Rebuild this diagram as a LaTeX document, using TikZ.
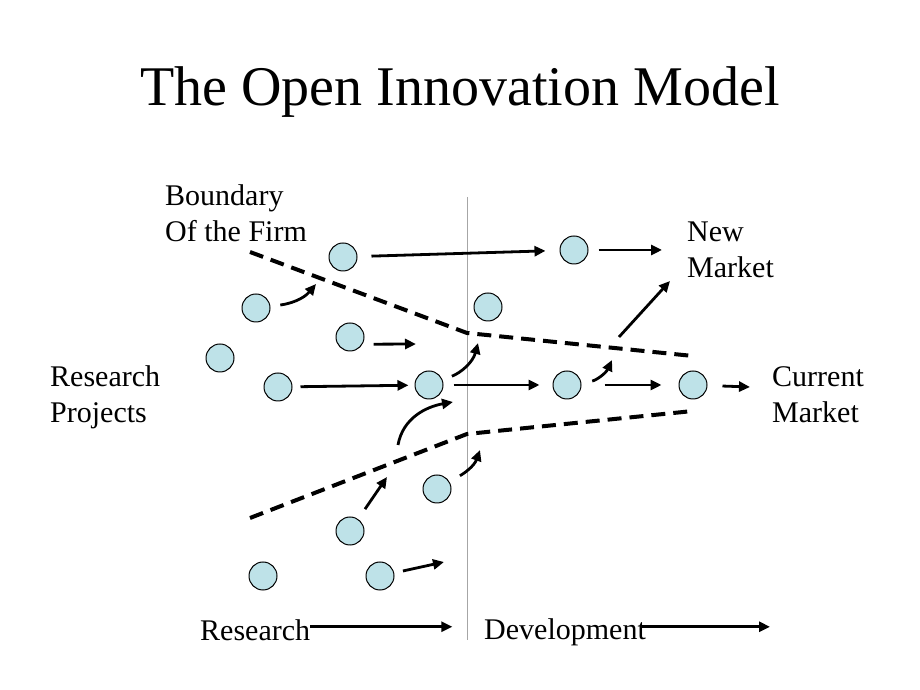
\documentclass[tikz,border=0pt]{standalone}
\usepackage{fontspec}
\setmainfont{Liberation Serif}
\usepackage{tikz}
\usetikzlibrary{arrows, arrows.meta}
\definecolor{projfill}{RGB}{190,226,232}

\begin{document}
\begin{tikzpicture}[x=1pt, y=1pt]
\tikzstyle{project}=[circle, draw, fill=projfill, line width=1pt, minimum size=28pt, inner sep=0pt]
\tikzstyle{label}=[inner sep=0pt, align=left, anchor=base west, font=\fontsize{30}{36}\selectfont]
\tikzstyle{flow}=[line width=2.8pt, -{Triangle[length=11pt, width=10pt]}]
\tikzstyle{boundary}=[line width=4pt, dash pattern=on 14pt off 8pt]
\useasboundingbox (0,0) rectangle (920,690);

% title and labels
\node[anchor=base, inner sep=0pt, font=\fontsize{56}{60}\selectfont] (title) at (460,584) {The Open Innovation Model};
\node[label] (firm) at (165,448) {Boundary\\Of the Firm};
\node[label] (newmkt) at (687,412) {New\\Market};
\node[label] (projects) at (50,267) {Research\\Projects};
\node[label] (curmkt) at (772,267) {Current\\Market};
\node[label] (research) at (200,49) {Research};
\node[label] (development) at (484,50) {Development};

% research / development divide
\coordinate (top) at (467,493);
\coordinate (bot) at (467,50);
\draw[gray!70, line width=0.9pt] (top) -- (bot);

% boundary of the firm
\coordinate (u1) at (250,438);
\coordinate (u2) at (467,357);
\coordinate (u3) at (693,334);
\coordinate (l1) at (250,172);
\coordinate (l2) at (467,256);
\coordinate (l3) at (693,279);
\draw[boundary] (u1) -- (u2) -- (u3);
\draw[boundary] (l1) -- (l2) -- (l3);

% projects
\node[project] (p1) at (343,433) {};
\node[project] (p2) at (256,382) {};
\node[project] (p3) at (350,353) {};
\node[project] (p4) at (220,332) {};
\node[project] (p5) at (278,303) {};
\node[project] (p6) at (429,305) {};
\node[project] (p7) at (488,383) {};
\node[project] (p8) at (574,440) {};
\node[project] (p9) at (567,305) {};
\node[project] (p10) at (693,305) {};
\node[project] (p11) at (437,201) {};
\node[project] (p12) at (350,159) {};
\node[project] (p13) at (263,114) {};
\node[project] (p14) at (380,114) {};

% free arrow ends
\coordinate (t2) at (316,406);
\coordinate (t3) at (416,346);
\coordinate (t6) at (478,347);
\coordinate (t8) at (662,440);
\coordinate (t9) at (612,330);
\coordinate (t10) at (750,303);
\coordinate (t11) at (480,240);
\coordinate (t12) at (387,213);
\coordinate (t14) at (444,128);
\coordinate (ns) at (619,353);
\coordinate (nt) at (670,409);
\coordinate (is) at (398,245);
\coordinate (it) at (453,288);
\coordinate (rtip) at ([shift={(142pt,4pt)}]research.east);
\coordinate (dtip) at ([shift={(124pt,6pt)}]development.east);

\path[flow]
(p1) edge[shorten <=14pt, shorten >=14pt] (p8)
(p8) edge[shorten <=10pt] (t8)
(p2) edge[out=7, in=230, shorten <=10pt] (t2)
(p3.-30) edge[shorten <=11pt] (t3)
(p5) edge[shorten <=8pt, shorten >=6pt] (p6)
(p6) edge[out=21, in=255, shorten <=10pt] (t6)
(p6) edge[shorten <=10pt, shorten >=13pt] (p9)
(p9) edge[out=9, in=245, shorten <=11pt] (t9)
(p9) edge[shorten <=23pt, shorten >=17pt] (p10)
(p10) edge[shorten <=15pt] (t10)
(ns) edge (nt)
(is) edge[out=80, in=190] (it)
(p12) edge[shorten <=12pt] (t12)
(p11) edge[out=30, in=250, shorten <=12pt] (t11)
(p14) edge[shorten <=9pt] (t14)
([yshift=4pt]research.east) edge (rtip)
([shift={(-6pt,6pt)}]development.east) edge (dtip);

\end{tikzpicture}
\end{document}
